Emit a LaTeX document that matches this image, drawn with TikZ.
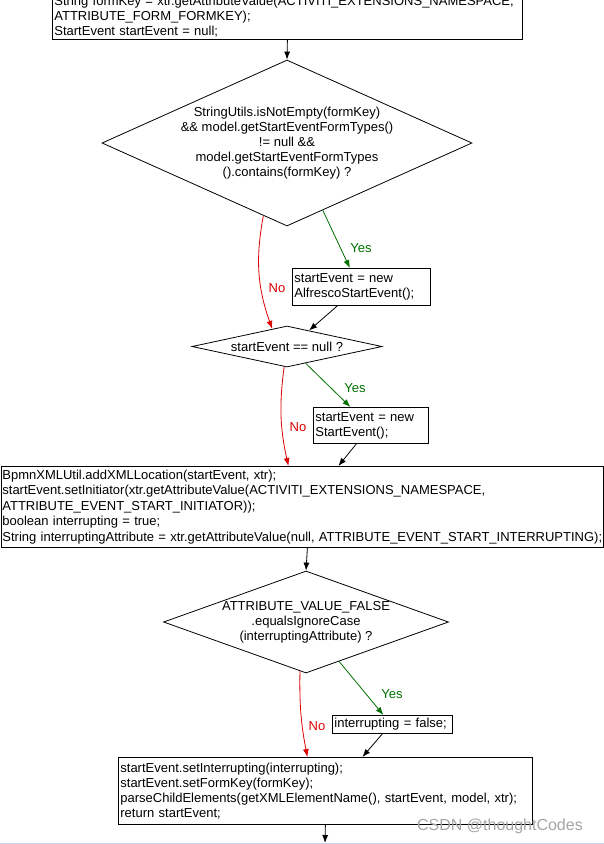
\documentclass[tikz,border=0pt]{standalone}
\usepackage{fontspec}
\setmainfont{Liberation Sans}
\newcommand*{\flowfont}{\fontsize{13}{15}\selectfont}
\newcommand*{\loosefont}{\fontsize{13}{15.6}\selectfont}
\newcommand*{\markfont}{\fontsize{16}{18}\selectfont}
\definecolor{N}{RGB}{222,0,0}
\definecolor{Y}{RGB}{0,112,0}
\definecolor{W}{RGB}{165,165,165}
\definecolor{L}{RGB}{205,215,245}
\usetikzlibrary{arrows.meta}
\usetikzlibrary{shapes.geometric}
\tikzstyle{base}=[x=1pt, y=-1pt, line width=0.8pt, >={Latex[length=8pt, width=6pt]}]
\tikzstyle{stmt}=[draw, anchor=north west, align=left, inner xsep=2pt, inner ysep=0pt, font=\flowfont]
\tikzstyle{cond}=[draw, diamond, align=center, inner sep=0pt, font=\flowfont]
\tikzstyle{nolbl}=[N, font=\flowfont, inner sep=0pt]
\tikzstyle{yeslbl}=[Y, font=\flowfont, inner sep=0pt]
\tikzstyle{noline}=[->, N]
\tikzstyle{yesline}=[->, Y]
\tikzstyle{wmark}=[W, font=\markfont, inner sep=0pt]

\begin{document}
\begin{tikzpicture}[base]
    \useasboundingbox (0,0) rectangle (604,844);
    \node [stmt, text width=466pt, minimum height=46pt] (init) at (52,-7) {String formKey = xtr.getAttributeValue(ACTIVITI\_EXTENSIONS\_NAMESPACE,\\ATTRIBUTE\_FORM\_FORMKEY);\\StartEvent startEvent = null;};
    \node [cond, minimum width=370pt, minimum height=166pt, aspect=2.2, inner xsep=-10pt] (hasform) at (287,143) {StringUtils.isNotEmpty(formKey)\\\&\& model.getStartEventFormTypes()\\!= null \&\&\\model.getStartEventFormTypes\\().contains(formKey) ?};
    \node [stmt, text width=134pt, minimum height=37pt] (alfresco) at (292,268) {startEvent = new\\AlfrescoStartEvent();};
    \node [cond, minimum width=190pt, minimum height=41pt, aspect=4.6] (isnull) at (287,346.5) {startEvent == null ?};
    \node [stmt, text width=111pt, minimum height=36pt] (plain) at (313,407) {startEvent = new\\StartEvent();};
    \node [stmt, text width=600pt, inner xsep=1pt, minimum height=81pt, font=\loosefont] (setup) at (1,466) {BpmnXMLUtil.addXMLLocation(startEvent, xtr);\\startEvent.setInitiator(xtr.getAttributeValue(ACTIVITI\_EXTENSIONS\_NAMESPACE,\\ATTRIBUTE\_EVENT\_START\_INITIATOR));\\boolean interrupting = true;\\String interruptingAttribute = xtr.getAttributeValue(null, ATTRIBUTE\_EVENT\_START\_INTERRUPTING);};
    \node [cond, minimum width=285pt, minimum height=102pt, aspect=2.8, inner xsep=-10pt] (isfalse) at (306,622) {ATTRIBUTE\_VALUE\_FALSE\\.equalsIgnoreCase\\(interruptingAttribute) ?};
    \node [stmt, text width=116pt, minimum height=18pt] (nointr) at (332,715) {interrupting = false;};
    \node [stmt, text width=410pt, minimum height=67pt] (finish) at (118,757) {startEvent.setInterrupting(interrupting);\\startEvent.setFormKey(formKey);\\parseChildElements(getXMLElementName(), startEvent, model, xtr);\\return startEvent;};
    \coordinate (out) at (325,843);

    \draw [->] (init.south) -- (hasform.north);
    \draw [noline] (hasform.252) to [bend right=15] (isnull.130);
    \draw [yesline] (hasform.298) -- ([xshift=-11.5pt]alfresco.north);
    \draw [->] ([xshift=-24pt]alfresco.south) -- (isnull.36);
    \draw [noline] (isnull.262) to [bend right=10] ([xshift=-14pt]setup.north);
    \draw [yesline] (isnull.318) -- ([xshift=-20.5pt]plain.north);
    \draw [->] ([xshift=-14.5pt]plain.south) -- ([xshift=36pt]setup.north);
    \draw [->] ([xshift=5pt]setup.south) -- (isfalse.north);
    \draw [noline] (isfalse.263) to [bend right=6] ([xshift=-18pt]finish.north);
    \draw [yesline] (isfalse.310) -- ([xshift=-9pt]nointr.north);
    \draw [->] ([xshift=-10pt]nointr.south) -- ([xshift=37pt]finish.north);
    \draw [->] (finish.south) -- (out);

    \node [nolbl] (no1) at (277,288) {No};
    \node [yeslbl] (yes1) at (361,248) {Yes};
    \node [nolbl] (no2) at (298,427) {No};
    \node [yeslbl] (yes2) at (355,388) {Yes};
    \node [nolbl] (no3) at (317,726) {No};
    \node [yeslbl] (yes3) at (392,694) {Yes};

    \node [wmark] (csdn) at (500,826) {CSDN @thoughtCodes};
    \draw [L, line width=1pt] (0,843.5) -- (604,843.5);
\end{tikzpicture}
\end{document}
